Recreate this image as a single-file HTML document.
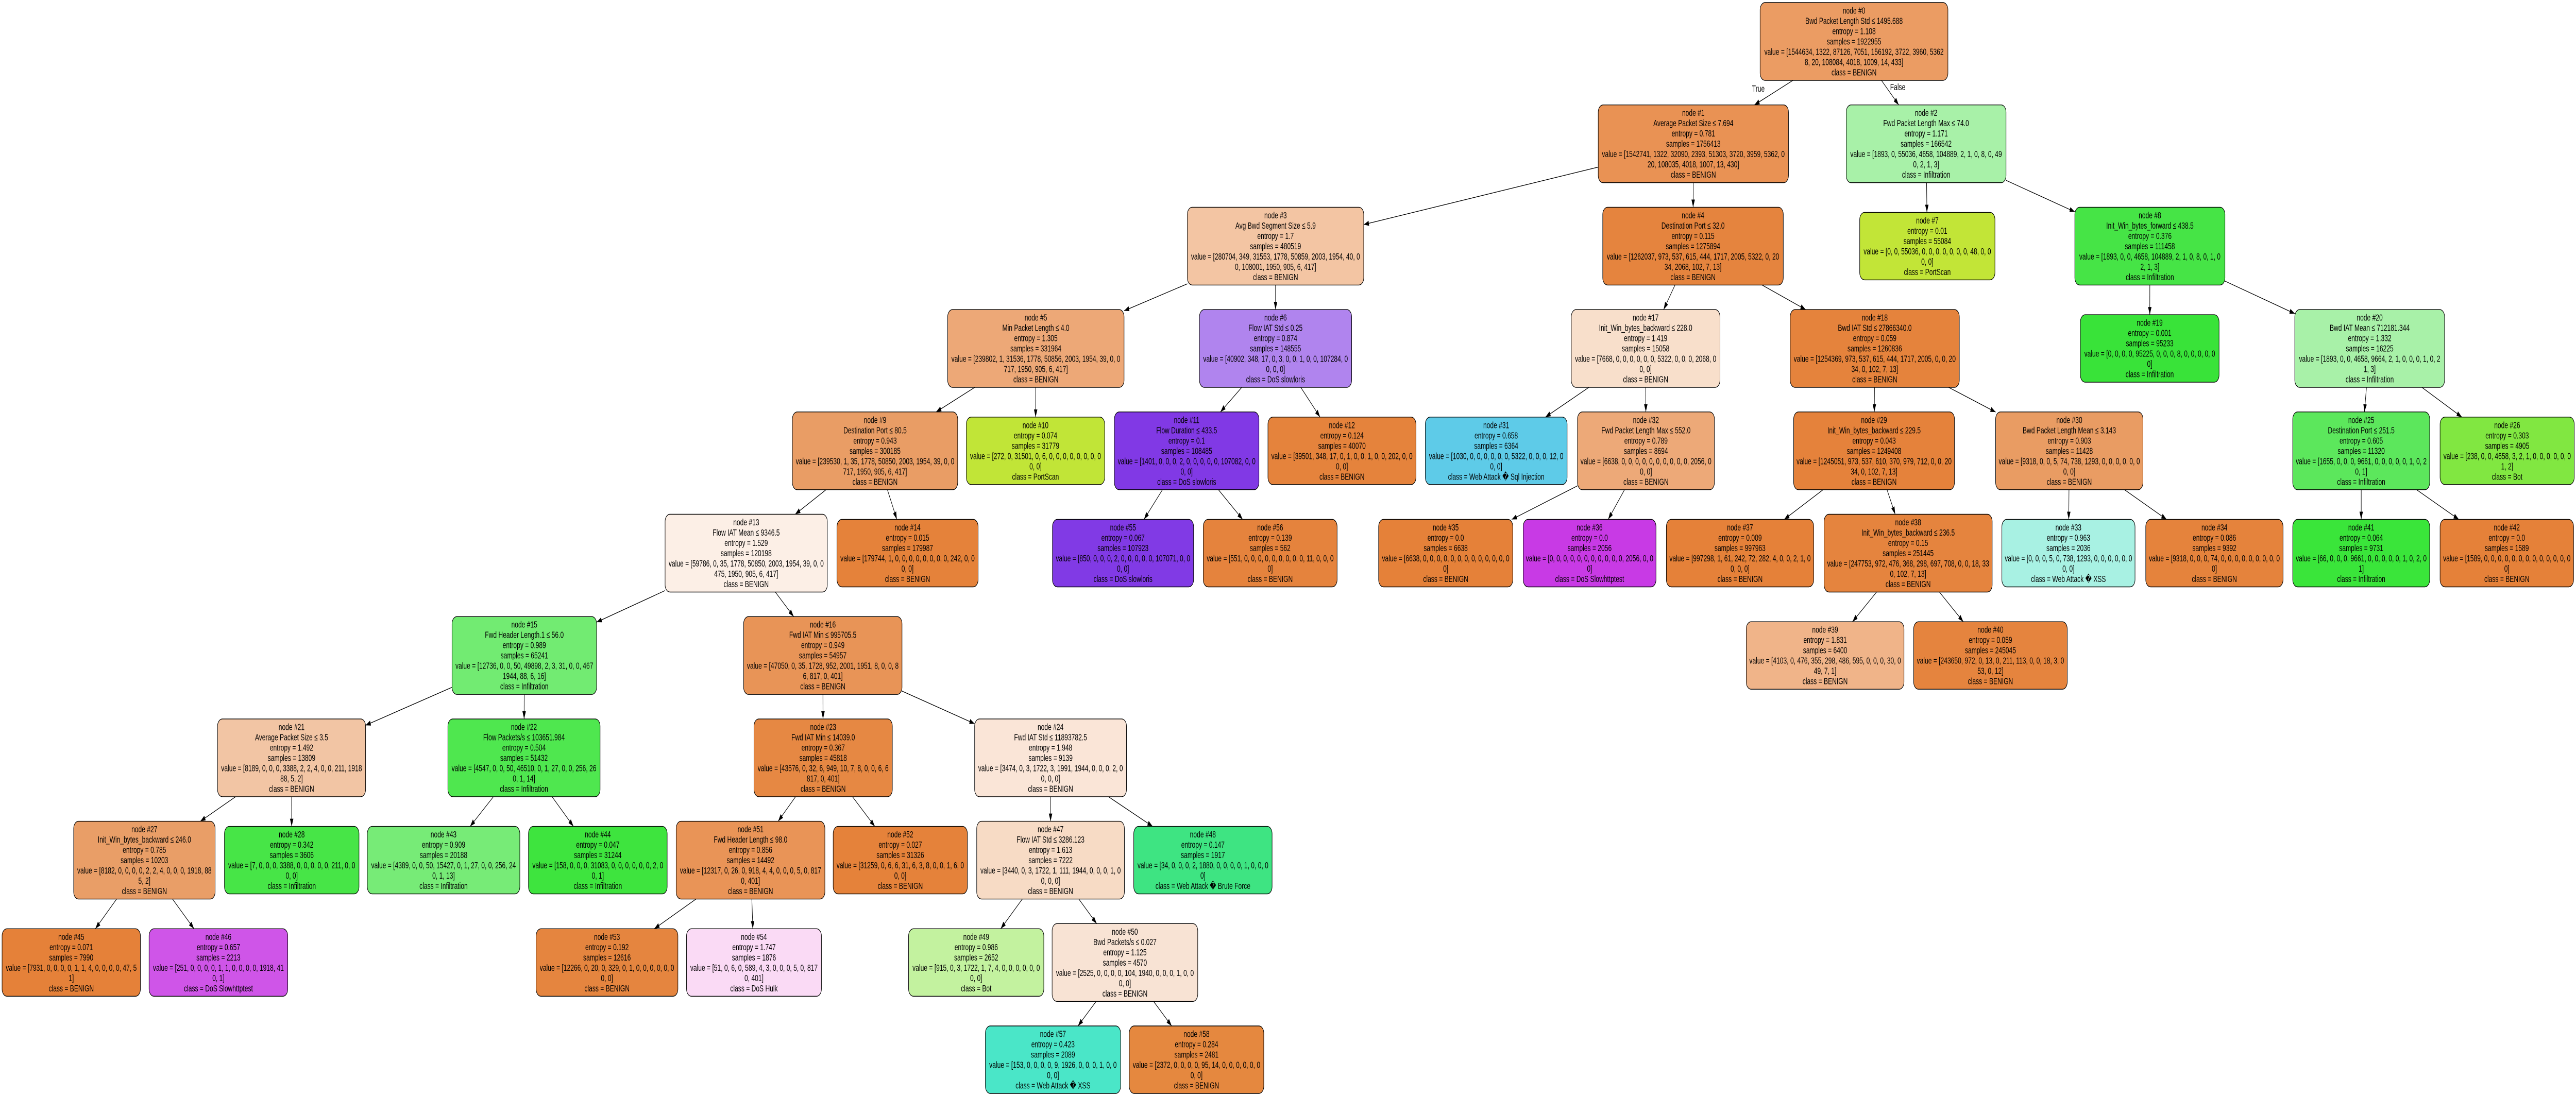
<!DOCTYPE html>
<html><head><meta charset="utf-8">
<style>
html,body{margin:0;padding:0;background:#fff;width:100%;height:100%;overflow:hidden;}
svg{display:block;width:100vw;height:100vh;}
text{font-family:"Liberation Sans","DejaVu Sans",sans-serif;font-size:18px;fill:#000;}
</style></head>
<body>
<svg id="s" xmlns="http://www.w3.org/2000/svg" viewBox="0 0 7448 2128" preserveAspectRatio="none">
<defs><marker id="ah" markerWidth="16" markerHeight="12" refX="15" refY="5" orient="auto" markerUnits="userSpaceOnUse"><path d="M0,0 L15,5 L0,10 z" fill="#000"/></marker></defs>
<g id="edges"></g><g id="nodes"></g>
<text x="5084" y="178" text-anchor="middle">True</text>
<text x="5487" y="175" text-anchor="middle">False</text>
</svg>
<script>
var W="Web Attack \uFFFD ";
var N=[
[0,0,5089,5632,"#eb9c63",["Bwd Packet Length Std ≤ 1495.688","entropy = 1.108","samples = 1922955","value = [1544634, 1322, 87126, 7051, 156192, 3722, 3960, 5362","8, 20, 108084, 4018, 1009, 14, 433]","class = BENIGN"]],
[1,1,4621,5171,"#e99254",["Average Packet Size ≤ 7.694","entropy = 0.781","samples = 1756413","value = [1542741, 1322, 32090, 2393, 51303, 3720, 3959, 5362, 0","20, 108035, 4018, 1007, 13, 430]","class = BENIGN"]],
[2,1,5338,5800,"#a8f1a8",["Fwd Packet Length Max ≤ 74.0","entropy = 1.171","samples = 166542","value = [1893, 0, 55036, 4658, 104889, 2, 1, 0, 8, 0, 49","0, 2, 1, 3]","class = Infiltration"]],
[3,2,3433,3943,"#f3c5a3",["Avg Bwd Segment Size ≤ 5.9","entropy = 1.7","samples = 480519","value = [280704, 349, 31553, 1778, 50859, 2003, 1954, 40, 0","0, 108001, 1950, 905, 6, 417]","class = BENIGN"]],
[4,2,4634,5156,"#e5843e",["Destination Port ≤ 32.0","entropy = 0.115","samples = 1275894","value = [1262037, 973, 537, 615, 444, 1717, 2005, 5322, 0, 20","34, 2068, 102, 7, 13]","class = BENIGN"]],
[7,2,5377,5768,"#c2e537",["entropy = 0.01","samples = 55084","value = [0, 0, 55036, 0, 0, 0, 0, 0, 0, 0, 48, 0, 0","0, 0]","class = PortScan"]],
[8,2,5999,6433,"#46e446",["Init_Win_bytes_forward ≤ 438.5","entropy = 0.376","samples = 111458","value = [1893, 0, 0, 4658, 104889, 2, 1, 0, 8, 0, 1, 0","2, 1, 3]","class = Infiltration"]],
[5,3,2740,3250,"#eda877",["Min Packet Length ≤ 4.0","entropy = 1.305","samples = 331964","value = [239802, 1, 31536, 1778, 50856, 2003, 1954, 39, 0, 0","717, 1950, 905, 6, 417]","class = BENIGN"]],
[6,3,3468,3908,"#b084ee",["Flow IAT Std ≤ 0.25","entropy = 0.874","samples = 148555","value = [40902, 348, 17, 0, 3, 0, 0, 1, 0, 0, 107284, 0","0, 0, 0]","class = DoS slowloris"]],
[17,3,4543,4973,"#f8dfcb",["Init_Win_bytes_backward ≤ 228.0","entropy = 1.419","samples = 15058","value = [7668, 0, 0, 0, 0, 0, 0, 5322, 0, 0, 0, 2068, 0","0, 0]","class = BENIGN"]],
[18,3,5176,5665,"#e5833c",["Bwd IAT Std ≤ 27866340.0","entropy = 0.059","samples = 1260836","value = [1254369, 973, 537, 615, 444, 1717, 2005, 0, 0, 20","34, 0, 102, 7, 13]","class = BENIGN"]],
[19,3,6015,6416,"#39e339",["entropy = 0.001","samples = 95233","value = [0, 0, 0, 0, 95225, 0, 0, 0, 8, 0, 0, 0, 0, 0","0]","class = Infiltration"]],
[20,3,6635,7068,"#a8f1a8",["Bwd IAT Mean ≤ 712181.344","entropy = 1.332","samples = 16225","value = [1893, 0, 0, 4658, 9664, 2, 1, 0, 0, 0, 1, 0, 2","1, 3]","class = Infiltration"]],
[9,4,2291,2769,"#e99d65",["Destination Port ≤ 80.5","entropy = 0.943","samples = 300185","value = [239530, 1, 35, 1778, 50850, 2003, 1954, 39, 0, 0","717, 1950, 905, 6, 417]","class = BENIGN"]],
[10,4,2794,3194,"#c1e537",["entropy = 0.074","samples = 31779","value = [272, 0, 31501, 0, 6, 0, 0, 0, 0, 0, 0, 0, 0","0, 0]","class = PortScan"]],
[11,4,3222,3640,"#8139e5",["Flow Duration ≤ 433.5","entropy = 0.1","samples = 108485","value = [1401, 0, 0, 0, 2, 0, 0, 0, 0, 0, 107082, 0, 0","0, 0]","class = DoS slowloris"]],
[12,4,3666,4094,"#e5833c",["entropy = 0.124","samples = 40070","value = [39501, 348, 17, 0, 1, 0, 0, 1, 0, 0, 202, 0, 0","0, 0]","class = BENIGN"]],
[31,4,4121,4531,"#5ecbe8",["entropy = 0.658","samples = 6364","value = [1030, 0, 0, 0, 0, 0, 0, 5322, 0, 0, 0, 12, 0","0, 0]","class = "+W+"Sql Injection"]],
[32,4,4561,4957,"#eda978",["Fwd Packet Length Max ≤ 552.0","entropy = 0.789","samples = 8694","value = [6638, 0, 0, 0, 0, 0, 0, 0, 0, 0, 0, 2056, 0","0, 0]","class = BENIGN"]],
[29,4,5186,5651,"#e5823b",["Init_Win_bytes_backward ≤ 229.5","entropy = 0.043","samples = 1249408","value = [1245051, 973, 537, 610, 370, 979, 712, 0, 0, 20","34, 0, 102, 7, 13]","class = BENIGN"]],
[30,4,5770,6196,"#e99c63",["Bwd Packet Length Mean ≤ 3.143","entropy = 0.903","samples = 11428","value = [9318, 0, 0, 5, 74, 738, 1293, 0, 0, 0, 0, 0, 0","0, 0]","class = BENIGN"]],
[25,4,6629,7025,"#5ce75c",["Destination Port ≤ 251.5","entropy = 0.605","samples = 11320","value = [1655, 0, 0, 0, 9661, 0, 0, 0, 0, 0, 1, 0, 2","0, 1]","class = Infiltration"]],
[26,4,7055,7443,"#81e741",["entropy = 0.303","samples = 4905","value = [238, 0, 0, 4658, 3, 2, 1, 0, 0, 0, 0, 0, 0","1, 2]","class = Bot"]],
[13,5,1923,2392,"#fcefe6",["Flow IAT Mean ≤ 9346.5","entropy = 1.529","samples = 120198","value = [59786, 0, 35, 1778, 50850, 2003, 1954, 39, 0, 0","475, 1950, 905, 6, 417]","class = BENIGN"]],
[14,5,2420,2828,"#e5823a",["entropy = 0.015","samples = 179987","value = [179744, 1, 0, 0, 0, 0, 0, 0, 0, 0, 242, 0, 0","0, 0]","class = BENIGN"]],
[55,5,3043,3451,"#813ae5",["entropy = 0.067","samples = 107923","value = [850, 0, 0, 0, 2, 0, 0, 0, 0, 0, 107071, 0, 0","0, 0]","class = DoS slowloris"]],
[56,5,3479,3866,"#e5833d",["entropy = 0.139","samples = 562","value = [551, 0, 0, 0, 0, 0, 0, 0, 0, 0, 11, 0, 0, 0","0]","class = BENIGN"]],
[35,5,3986,4374,"#e58139",["entropy = 0.0","samples = 6638","value = [6638, 0, 0, 0, 0, 0, 0, 0, 0, 0, 0, 0, 0, 0","0]","class = BENIGN"]],
[36,5,4404,4788,"#c83ae5",["entropy = 0.0","samples = 2056","value = [0, 0, 0, 0, 0, 0, 0, 0, 0, 0, 0, 2056, 0, 0","0]","class = DoS Slowhttptest"]],
[37,5,4818,5244,"#e58139",["entropy = 0.009","samples = 997963","value = [997298, 1, 61, 242, 72, 282, 4, 0, 0, 2, 1, 0","0, 0, 0]","class = BENIGN"]],
[38,5,5274,5760,"#e5843e",["Init_Win_bytes_backward ≤ 236.5","entropy = 0.15","samples = 251445","value = [247753, 972, 476, 368, 298, 697, 708, 0, 0, 18, 33","0, 102, 7, 13]","class = BENIGN"]],
[33,5,5788,6173,"#a8f1e3",["entropy = 0.963","samples = 2036","value = [0, 0, 0, 5, 0, 738, 1293, 0, 0, 0, 0, 0, 0","0, 0]","class = "+W+"XSS"]],
[34,5,6204,6601,"#e5833c",["entropy = 0.086","samples = 9392","value = [9318, 0, 0, 0, 74, 0, 0, 0, 0, 0, 0, 0, 0, 0","0]","class = BENIGN"]],
[41,5,6629,7025,"#3ae53a",["entropy = 0.064","samples = 9731","value = [66, 0, 0, 0, 9661, 0, 0, 0, 0, 0, 1, 0, 2, 0","1]","class = Infiltration"]],
[42,5,7055,7441,"#e58139",["entropy = 0.0","samples = 1589","value = [1589, 0, 0, 0, 0, 0, 0, 0, 0, 0, 0, 0, 0, 0","0]","class = BENIGN"]],
[15,6,1307,1725,"#72eb72",["Fwd Header Length.1 ≤ 56.0","entropy = 0.989","samples = 65241","value = [12736, 0, 0, 50, 49898, 2, 3, 31, 0, 0, 467","1944, 88, 6, 16]","class = Infiltration"]],
[16,6,2150,2608,"#e89457",["Fwd IAT Min ≤ 995705.5","entropy = 0.949","samples = 54957","value = [47050, 0, 35, 1728, 952, 2001, 1951, 8, 0, 0, 8","6, 817, 0, 401]","class = BENIGN"]],
[39,6,5049,5505,"#f0b489",["entropy = 1.831","samples = 6400","value = [4103, 0, 476, 355, 298, 486, 595, 0, 0, 0, 30, 0","49, 7, 1]","class = BENIGN"]],
[40,6,5533,5977,"#e5843e",["entropy = 0.059","samples = 245045","value = [243650, 972, 0, 13, 0, 211, 113, 0, 0, 18, 3, 0","53, 0, 12]","class = BENIGN"]],
[21,7,629,1057,"#f2c5a4",["Average Packet Size ≤ 3.5","entropy = 1.492","samples = 13809","value = [8189, 0, 0, 0, 3388, 2, 2, 4, 0, 0, 211, 1918","88, 5, 2]","class = BENIGN"]],
[22,7,1295,1735,"#4fe74f",["Flow Packets/s ≤ 103651.984","entropy = 0.504","samples = 51432","value = [4547, 0, 0, 50, 46510, 0, 1, 27, 0, 0, 256, 26","0, 1, 14]","class = Infiltration"]],
[23,7,2180,2580,"#e68843",["Fwd IAT Min ≤ 14039.0","entropy = 0.367","samples = 45818","value = [43576, 0, 32, 6, 949, 10, 7, 8, 0, 0, 6, 6","817, 0, 401]","class = BENIGN"]],
[24,7,2818,3257,"#fae5d7",["Fwd IAT Std ≤ 11893782.5","entropy = 1.948","samples = 9139","value = [3474, 0, 3, 1722, 3, 1991, 1944, 0, 0, 0, 2, 0","0, 0, 0]","class = BENIGN"]],
[27,8,213,622,"#e99e67",["Init_Win_bytes_backward ≤ 246.0","entropy = 0.785","samples = 10203","value = [8182, 0, 0, 0, 0, 2, 2, 4, 0, 0, 0, 1918, 88","5, 2]","class = BENIGN"]],
[28,8,649,1038,"#47e547",["entropy = 0.342","samples = 3606","value = [7, 0, 0, 0, 3388, 0, 0, 0, 0, 0, 211, 0, 0","0, 0]","class = Infiltration"]],
[43,8,1062,1503,"#77eb77",["entropy = 0.909","samples = 20188","value = [4389, 0, 0, 50, 15427, 0, 1, 27, 0, 0, 256, 24","0, 1, 13]","class = Infiltration"]],
[44,8,1528,1929,"#3ee43e",["entropy = 0.047","samples = 31244","value = [158, 0, 0, 0, 31083, 0, 0, 0, 0, 0, 0, 2, 0","0, 1]","class = Infiltration"]],
[51,8,1955,2385,"#e99457",["Fwd Header Length ≤ 98.0","entropy = 0.856","samples = 14492","value = [12317, 0, 26, 0, 918, 4, 4, 0, 0, 0, 5, 0, 817","0, 401]","class = BENIGN"]],
[52,8,2409,2797,"#e5823a",["entropy = 0.027","samples = 31326","value = [31259, 0, 6, 6, 31, 6, 3, 8, 0, 0, 1, 6, 0","0, 0]","class = BENIGN"]],
[47,8,2824,3251,"#f7dbc5",["Flow IAT Std ≤ 3286.123","entropy = 1.613","samples = 7222","value = [3440, 0, 3, 1722, 1, 111, 1944, 0, 0, 0, 1, 0","0, 0, 0]","class = BENIGN"]],
[48,8,3278,3678,"#3ee482",["entropy = 0.147","samples = 1917","value = [34, 0, 0, 0, 2, 1880, 0, 0, 0, 0, 1, 0, 0, 0","0]","class = "+W+"Brute Force"]],
[45,9,6,406,"#e58139",["entropy = 0.071","samples = 7990","value = [7931, 0, 0, 0, 0, 1, 1, 4, 0, 0, 0, 0, 47, 5","1]","class = BENIGN"]],
[46,9,431,832,"#cf55e8",["entropy = 0.657","samples = 2213","value = [251, 0, 0, 0, 0, 1, 1, 0, 0, 0, 0, 1918, 41","0, 1]","class = DoS Slowhttptest"]],
[53,9,1550,1960,"#e5853f",["entropy = 0.192","samples = 12616","value = [12266, 0, 20, 0, 329, 0, 1, 0, 0, 0, 0, 0, 0","0, 0]","class = BENIGN"]],
[54,9,1985,2375,"#fadaf5",["entropy = 1.747","samples = 1876","value = [51, 0, 6, 0, 589, 4, 3, 0, 0, 0, 5, 0, 817","0, 401]","class = DoS Hulk"]],
[49,9,2627,3018,"#c3f29f",["entropy = 0.986","samples = 2652","value = [915, 0, 3, 1722, 1, 7, 4, 0, 0, 0, 0, 0, 0","0, 0]","class = Bot"]],
[50,9,3042,3463,"#f8e3d4",["Bwd Packets/s ≤ 0.027","entropy = 1.125","samples = 4570","value = [2525, 0, 0, 0, 0, 104, 1940, 0, 0, 0, 1, 0, 0","0, 0]","class = BENIGN"]],
[57,10,2849,3240,"#4ae6c8",["entropy = 0.423","samples = 2089","value = [153, 0, 0, 0, 0, 9, 1926, 0, 0, 0, 1, 0, 0","0, 0]","class = "+W+"XSS"]],
[58,10,3265,3654,"#e5883f",["entropy = 0.284","samples = 2481","value = [2372, 0, 0, 0, 0, 95, 14, 0, 0, 0, 0, 0, 0","0, 0]","class = BENIGN"]]
];
var E=[[0,1],[0,2],[1,3],[1,4],[2,7],[2,8],[3,5],[3,6],[4,17],[4,18],[8,19],[8,20],[5,9],[5,10],[6,11],[6,12],[17,31],[17,32],[18,29],[18,30],[20,25],[20,26],[9,13],[9,14],[11,55],[11,56],[32,35],[32,36],[29,37],[29,38],[30,33],[30,34],[25,41],[25,42],[13,15],[13,16],[38,39],[38,40],[15,21],[15,22],[16,23],[16,24],[21,27],[21,28],[22,43],[22,44],[23,51],[23,52],[24,47],[24,48],[27,45],[27,46],[51,53],[51,54],[47,49],[47,50],[50,57],[50,58]];
var NS="http://www.w3.org/2000/svg";
function cy(l){return l<10?80.5+198.7*l:2057.5;}
var B={};
var gN=document.getElementById("nodes"),gE=document.getElementById("edges");
N.forEach(function(n){
  var lines=["node #"+n[0]].concat(n[5]);
  var h=lines.length*20+11, c=cy(n[1]);
  var b={x1:n[2],x2:n[3],y1:c-h/2,y2:c+h/2,cx:(n[2]+n[3])/2,cy:c};
  B[n[0]]=b;
  var r=document.createElementNS(NS,"rect");
  r.setAttribute("x",b.x1);r.setAttribute("y",b.y1);r.setAttribute("width",b.x2-b.x1);r.setAttribute("height",h);
  r.setAttribute("rx",14);r.setAttribute("fill",n[4]);r.setAttribute("stroke","#000");r.setAttribute("stroke-width","1.4");
  gN.appendChild(r);
  var t0=c-(lines.length-1)*10;
  lines.forEach(function(s,i){
    var t=document.createElementNS(NS,"text");
    t.setAttribute("x",b.cx);t.setAttribute("y",t0+i*20+6);t.setAttribute("text-anchor","middle");
    t.textContent=s;gN.appendChild(t);
  });
});
function clip(b,dx,dy){
  var tx=Infinity,ty=Infinity;
  if(dx!==0) tx=((dx>0?b.x2:b.x1)-b.cx)/dx;
  if(dy!==0) ty=((dy>0?b.y2:b.y1)-b.cy)/dy;
  var t=Math.min(Math.abs(tx),Math.abs(ty));
  return [b.cx+dx*t,b.cy+dy*t];
}
E.forEach(function(e){
  var p=B[e[0]],q=B[e[1]];
  var dx=q.cx-p.cx,dy=q.cy-p.cy;
  var a=clip(p,dx,dy),z=clip(q,-dx,-dy);
  var l=document.createElementNS(NS,"line");
  l.setAttribute("x1",a[0]);l.setAttribute("y1",a[1]);l.setAttribute("x2",z[0]);l.setAttribute("y2",z[1]);
  l.setAttribute("stroke","#000");l.setAttribute("stroke-width","1.4");l.setAttribute("marker-end","url(#ah)");
  gE.appendChild(l);
});
</script>
</body></html>
